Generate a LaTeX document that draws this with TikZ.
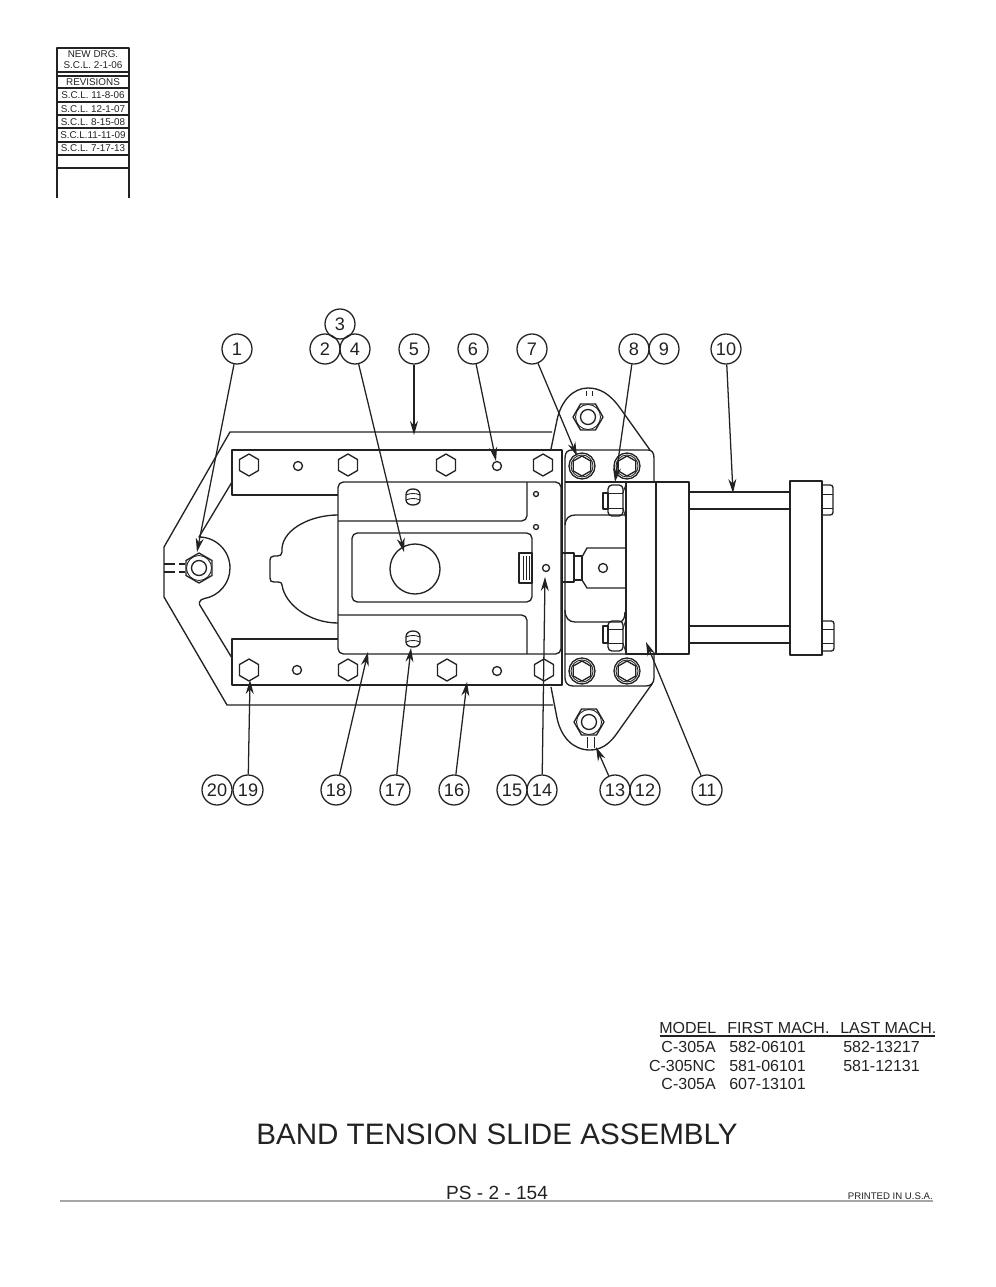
\documentclass[tikz,border=0pt]{standalone}
\usepackage{fontspec}
\setmainfont{Liberation Sans}
\usetikzlibrary{arrows.meta}
\definecolor{inkgrey}{HTML}{222222}
\tikzset{
  part/.style={draw=inkgrey,line width=1pt,line join=round},
  thin part/.style={draw=inkgrey,line width=0.65pt},
  leader/.style={draw=inkgrey,line width=0.95pt,-{Stealth[length=10.5pt,width=6pt]}},
  balloon/.style={circle,draw=inkgrey,line width=0.95pt,minimum size=22.5pt,inner sep=0pt,text=inkgrey,text height=9.4pt,text depth=0pt,font=\fontsize{13.6}{15}\selectfont},
  revtext/.style={inner sep=0pt,text=inkgrey,font=\fontsize{7.4}{8}\selectfont},
  tabletext/.style={anchor=west,inner sep=0pt,text=inkgrey,font=\fontsize{12}{14}\selectfont},
  hexhead/.pic={\draw[part] (0,-11) -- (9.5,-5.5) -- (9.5,5.5) -- (0,11) -- (-9.5,5.5) -- (-9.5,-5.5) -- cycle;},
  socketbolt/.pic={\draw[part] (0,0) circle (13); \draw[thin part] (0,0) circle (11);
    \draw[part] (0,-10) -- (8.7,-5) -- (8.7,5) -- (0,10) -- (-8.7,5) -- (-8.7,-5) -- cycle;},
  hexnut/.pic={\draw[part] (-15,0) -- (-7.5,-13) -- (7.5,-13) -- (15,0) -- (7.5,13) -- (-7.5,13) -- cycle;
    \draw[thin part] (0,0) circle (12.5); \draw[part] (0,0) circle (7.5);},
  setscrew/.pic={\draw[part] (-7,-3) .. controls (-7,-6) and (-4,-8) .. (0,-8) .. controls (4,-8) and (7,-6) .. (7,-3) -- (7,2) .. controls (7,6) and (4,8) .. (0,8) .. controls (-4,8) and (-7,6) .. (-7,2) -- cycle;
    \draw[thin part] (-7,-3) .. controls (-3,-1) and (3,-1) .. (7,-3);
    \draw[thin part] (-7,2) .. controls (-3,4) and (3,4) .. (7,2);},
}
\begin{document}
\begin{tikzpicture}[x=0.75pt,y=0.75pt,yscale=-1,xscale=1]
\useasboundingbox (0,0) rectangle (995,1287);

%Shape: revision box
\draw[part] (57,198) -- (57,48) -- (129,48) -- (129,198);
\draw[part] (57,72) -- (129,72);
\draw[part] (57,76) -- (129,76);
\draw[part] (57,88) -- (129,88);
\draw[part] (57,102) -- (129,102);
\draw[part] (57,115) -- (129,115);
\draw[part] (57,128) -- (129,128);
\draw[part] (57,142) -- (129,142);
\draw[part] (57,155) -- (129,155);
\draw[part] (57,168) -- (129,168);

%Shape: outer frame
\draw[part] (552,432) -- (230,432) -- (164,547) -- (164,597) -- (227,705) -- (553,705);
%Shape: clamp arm
\draw[part] (232,482) -- (199,537) arc (-90:80:31) .. controls (199,599.5) and (198,604) .. (201,607) -- (232,658);
\draw[part,dashed,dash pattern=on 8pt off 3pt] (164,564) -- (185,564);
\draw[part,dashed,dash pattern=on 8pt off 3pt] (164,572) -- (185,572);
%Shape: key slot
\draw[part] (338,515) .. controls (312,515) and (284,528) .. (282,548) -- (282,552) .. controls (282,555) and (280,556) .. (277,556) -- (274,556) .. controls (271,556) and (270,558) .. (270,560) -- (270,578) .. controls (270,581) and (271,582) .. (274,582) -- (278,582) .. controls (281,582) and (282,583) .. (282,585) .. controls (285,605) and (310,623) .. (338,623);

%Shape: rails
\draw[part] (338,495) -- (232,495) -- (232,450) -- (562,450) -- (562,685) -- (232,685) -- (232,639) -- (338,639);

%Shape: slide block
\draw[part,rounded corners=4] (338,482) rectangle (561,654);
\draw[part,rounded corners=4] (338,521) -- (527,521) -- (527,482);
\draw[part,rounded corners=4] (338,615) -- (527,615) -- (527,654);
\draw[part,rounded corners=4] (352,533) rectangle (532,602);
\draw[part] (415,569) circle (25);
%Shape: latch
\draw[part] (519,553) rectangle (532,583);
\draw[thin part] (523,556) -- (523,580);
\draw[thin part] (526,556) -- (526,580);
\draw[thin part] (529,556) -- (529,580);
%Shape: small holes
\draw[part] (298,466) circle (4.5);
\draw[part] (497,466) circle (4.5);
\draw[part] (297,670) circle (4.5);
\draw[part] (497,671) circle (4.5);
\draw[part] (536,494) circle (2.5);
\draw[part] (536,527) circle (2.5);
\draw[part] (546,568) circle (3.5);
\draw[part] (603,568) circle (4.5);
\pic at (413,497) {setscrew};
\pic at (413,639) {setscrew};
%Shape: rail bolts
\pic at (249,465) {hexhead};
\pic at (348,465) {hexhead};
\pic at (446,465) {hexhead};
\pic at (543,465) {hexhead};
\pic at (249,670) {hexhead};
\pic at (348,670) {hexhead};
\pic at (447,670) {hexhead};
\pic at (544,670) {hexhead};

%Shape: bracket with lugs
\draw[part] (565,482) -- (565,458) .. controls (565,452) and (568,450) .. (572,450) -- (648,450) .. controls (652,450) and (654,453) .. (654,458) -- (654,482);
\draw[part] (565,482) -- (654,482);
\draw[part] (565,482) -- (565,678) .. controls (565,683) and (568,686) .. (573,686) -- (646,686) .. controls (651,686) and (654,683) .. (654,678) -- (654,654) -- (565,654);
\draw[part] (551,449) -- (557,420) .. controls (561,401) and (573,388) .. (588,388) .. controls (600,388) and (610,394) .. (620,408) -- (650,450);
\draw[part] (551,687) -- (557,718) .. controls (561,737) and (573,750) .. (590,750) .. controls (600,750) and (608,745) .. (615,736) -- (652,684);
\draw[thin part] (586,391) -- (586,396);
\draw[thin part] (592,391) -- (592,396);
\draw[thin part] (587,737) -- (587,748);
\draw[thin part] (594,737) -- (594,748);
\pic at (582,466) {socketbolt};
\pic at (627,466) {socketbolt};
\pic at (582,671) {socketbolt};
\pic at (627,671) {socketbolt};
\pic at (588,417) {hexnut};
\pic at (589,722) {hexnut};
\pic[rotate=90] at (199,568) {hexnut};
%Shape: bracket chamber
\draw[part] (565,525) .. controls (565,519) and (569,515) .. (575,515) -- (625,515);
\draw[part] (565,610) .. controls (565,618) and (569,622) .. (575,622) -- (619,622) .. controls (623,622) and (625,618) .. (625,612);
%Shape: clevis
\draw[part] (562,553) rectangle (574,582);
\draw[part] (574,556) rectangle (582,580);
\draw[part] (582,557) -- (587,548) -- (625,548);
\draw[part] (582,580) -- (587,588) -- (625,588);
%Shape: side nuts
\draw[part] (603,493) rectangle (608,509);
\draw[part,rounded corners=3] (608,485) rectangle (623,516);
\draw[thin part] (608,493) -- (623,493);
\draw[thin part] (608,508) -- (623,508);
\draw[thin part] (626,484) -- (623,493);
\draw[thin part] (623,508) -- (626,519);
\draw[part] (603,626) rectangle (608,643);
\draw[part,rounded corners=3] (608,621) rectangle (623,651);
\draw[thin part] (608,629) -- (623,629);
\draw[thin part] (608,643) -- (623,643);
\draw[thin part] (626,619) -- (623,629);
\draw[thin part] (623,643) -- (626,653);

%Shape: cylinder
\draw[part] (626,482) rectangle (689,654);
\draw[part] (656,482) -- (656,654);
\draw[part] (689,492) -- (790,492);
\draw[part] (689,509) -- (790,509);
\draw[part] (689,626) -- (790,626);
\draw[part] (689,643) -- (790,643);
\draw[part] (790,481) rectangle (822,655);
\draw[part,rounded corners=2] (822,485) -- (833,485) -- (833,515) -- (822,515);
\draw[thin part] (822,494) -- (833,494);
\draw[thin part] (822,508) -- (833,508);
\draw[part,rounded corners=2] (822,621) -- (834,621) -- (834,651) -- (822,651);
\draw[thin part] (822,629) -- (834,629);
\draw[thin part] (822,643) -- (834,643);

% Text Node
\node[balloon] (b1) at (237,349) {1};
\node[balloon] (b2) at (325,349) {2};
\node[balloon] (b3) at (340,324) {3};
\node[balloon] (b4) at (355,349) {4};
\node[balloon] (b5) at (414,349) {5};
\node[balloon] (b6) at (473,349) {6};
\node[balloon] (b7) at (532,349) {7};
\node[balloon] (b8) at (634,349) {8};
\node[balloon] (b9) at (664,349) {9};
\node[balloon] (b10) at (726,349) {10};
\node[balloon] (b11) at (707,790) {11};
\node[balloon] (b12) at (645,790) {12};
\node[balloon] (b13) at (615,790) {13};
\node[balloon] (b14) at (542,790) {14};
\node[balloon] (b15) at (512,790) {15};
\node[balloon] (b16) at (454,790) {16};
\node[balloon] (b17) at (395,790) {17};
\node[balloon] (b18) at (336,790) {18};
\node[balloon] (b19) at (248,790) {19};
\node[balloon] (b20) at (217,790) {20};

%Straight Lines: leaders
\coordinate (t1) at (197,552);
\coordinate (t4) at (404,552);
\coordinate (t5) at (414,435);
\coordinate (t6) at (496,461);
\coordinate (t7) at (577,456);
\coordinate (t8) at (615,482);
\coordinate (t10) at (733,493);
\coordinate (t11) at (646,642);
\coordinate (t13) at (596,747);
\coordinate (t14) at (545,577);
\coordinate (t16) at (467,682);
\coordinate (t17) at (411,648);
\coordinate (t18) at (368,652);
\coordinate (t19) at (250,680);
\draw[leader] (b1) -- (t1);
\draw[leader] (b4) -- (t4);
\draw[leader] (b5) -- (t5);
\draw[leader] (b6) -- (t6);
\draw[leader] (b7) -- (t7);
\draw[leader] (b8) -- (t8);
\draw[leader] (b10) -- (t10);
\draw[leader] (b11) -- (t11);
\draw[leader] (b13) -- (t13);
\draw[leader] (b14) -- (t14);
\draw[leader] (b16) -- (t16);
\draw[leader] (b17) -- (t17);
\draw[leader] (b18) -- (t18);
\draw[leader] (b19) -- (t19);

% Text Node
\node[revtext] (rev1) at (93,54) {NEW DRG.};
\node[revtext] (rev2) at (93,65) {S.C.L. 2-1-06};
\node[revtext] (rev3) at (93,82) {REVISIONS};
\node[revtext] (rev4) at (93,95.5) {S.C.L. 11-8-06};
\node[revtext] (rev5) at (93,109) {S.C.L. 12-1-07};
\node[revtext] (rev6) at (93,122) {S.C.L. 8-15-08};
\node[revtext] (rev7) at (93,135) {S.C.L.11-11-09};
\node[revtext] (rev8) at (93,148.5) {S.C.L. 7-17-13};

% Text Node
\node[tabletext] (hmodel) at (659,1028) {MODEL};
\node[tabletext] (hfirst) at (727,1028) {FIRST MACH.};
\node[tabletext] (hlast) at (840,1028) {LAST MACH.};
\draw[part] (660,1036) -- (935,1036);
\node[tabletext,anchor=east] (m1) at (716,1047) {C-305A};
\node[tabletext,anchor=east] (m2) at (716,1066) {C-305NC};
\node[tabletext,anchor=east] (m3) at (716,1084) {C-305A};
\node[tabletext] (f1) at (729,1047) {582-06101};
\node[tabletext] (f2) at (729,1066) {581-06101};
\node[tabletext] (f3) at (729,1084) {607-13101};
\node[tabletext] (l1) at (843,1047) {582-13217};
\node[tabletext] (l2) at (843,1066) {581-12131};

% Text Node
\node[inner sep=0pt,text=inkgrey,font=\fontsize{22.2}{26}\selectfont] (title) at (497,1134) {BAND TENSION SLIDE ASSEMBLY};
\node[inner sep=0pt,text=inkgrey,font=\fontsize{14.3}{16}\selectfont] (pageno) at (497,1193) {PS - 2 - 154};
\node[inner sep=0pt,anchor=east,text=inkgrey,font=\fontsize{7.2}{8}\selectfont] (printed) at (933,1196) {PRINTED IN U.S.A.};
\draw[draw=black!35,line width=0.8pt] (60,1201) -- (933,1201);

\end{tikzpicture}
\end{document}
